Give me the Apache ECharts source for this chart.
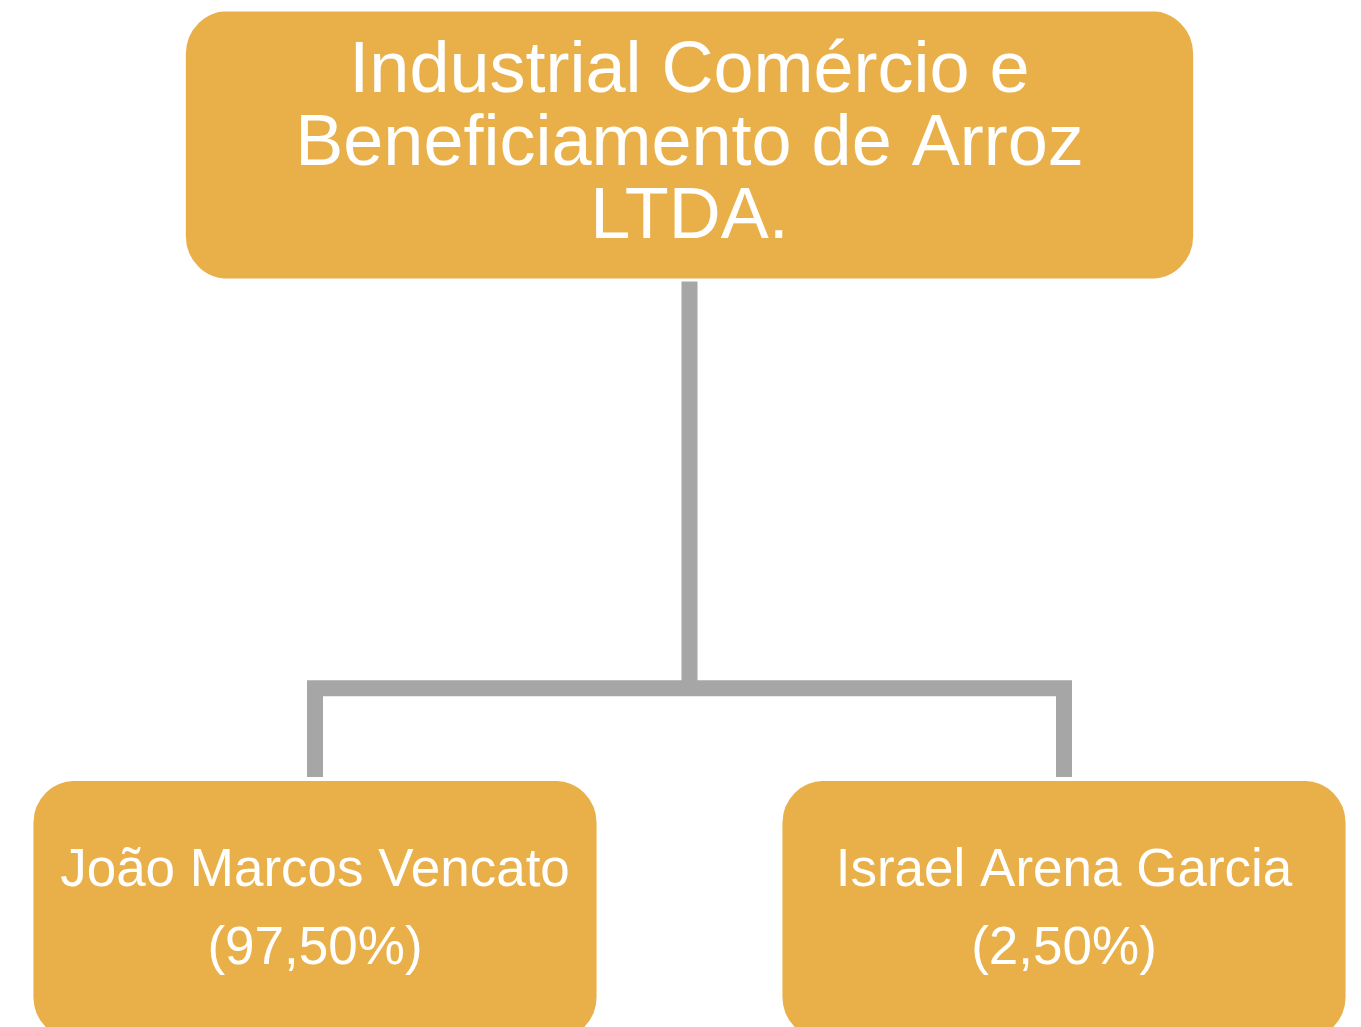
<!DOCTYPE html>
<html>
<head>
<meta charset="utf-8">
<script src="https://cdn.jsdelivr.net/npm/echarts@6/dist/echarts.min.js"></script>
<style>html,body{margin:0;padding:0;background:#fff}#c{width:1361px;height:1027px}</style>
</head>
<body>
<div id="c"></div>
<script>
const rootName = 'Industrial Comércio e\nBeneficiamento de Arroz\nLTDA.';
const childNames = ['João Marcos Vencato\n(97,50%)', 'Israel Arena Garcia\n(2,50%)'];

const BOX = '#E9B04A';
const LINE = '#A6A6A6';
function rr(w, h, r) {
  return 'path://M' + r + ',0H' + (w - r) + 'A' + r + ',' + r + ' 0 0 1 ' + w + ',' + r +
    'V' + (h - r) + 'A' + r + ',' + r + ' 0 0 1 ' + (w - r) + ',' + h +
    'H' + r + 'A' + r + ',' + r + ' 0 0 1 0,' + (h - r) +
    'V' + r + 'A' + r + ',' + r + ' 0 0 1 ' + r + ',0Z';
}
const treeData = {
  name: rootName,
  symbol: rr(1019, 270, 44),
  symbolSize: [1019, 270],
  label: { fontSize: 72, lineHeight: 73 },
  children: childNames.map(n => ({
    name: n,
    symbol: rr(572, 262, 44),
    symbolSize: [572, 262],
    label: { fontSize: 53, lineHeight: 78, padding: [0, 0, 8, 0] }
  }))
};
const chart = echarts.init(document.getElementById('c'));
chart.setOption({
  animation: false,
  series: [{
    type: 'tree',
    orient: 'TB',
    layout: 'orthogonal',
    data: [treeData],
    left: -59.5, right: -77.5, top: 145, bottom: 117,
    expandAndCollapse: false,
    roam: false,
    edgeShape: 'polyline',
    edgeForkPosition: '71%',
    itemStyle: { color: BOX, borderColor: '#fff', borderWidth: 6 },
    lineStyle: { color: LINE, width: 16, cap: 'square', curveness: 0 },
    label: {
      show: true,
      position: 'inside',
      color: '#fff',
      fontFamily: 'Liberation Sans, Arial, sans-serif',
      align: 'center',
      verticalAlign: 'middle'
    },
    leaves: { label: { position: 'inside', align: 'center', verticalAlign: 'middle' } },
    emphasis: { disabled: true }
  }]
});
</script>
</body>
</html>
